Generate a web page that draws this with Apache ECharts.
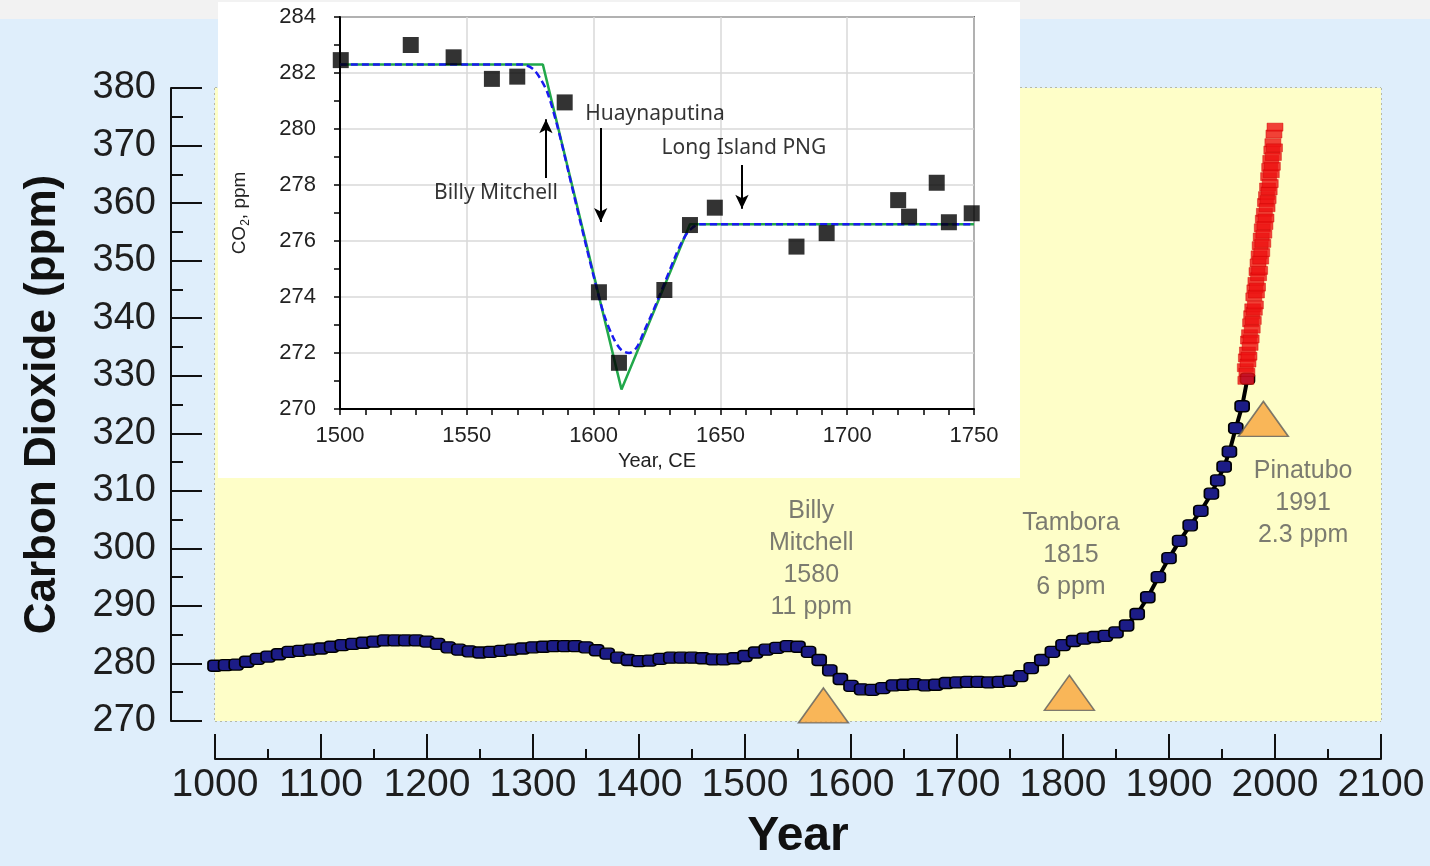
<!DOCTYPE html>
<html>
<head>
<meta charset="utf-8">
<script src="https://cdn.jsdelivr.net/npm/echarts@6/dist/echarts.min.js"></script>
<style>
html,body{margin:0;padding:0;background:#dfeefb;overflow:hidden;}
#chart{position:absolute;left:0;top:0;width:1430px;height:866px;}
</style>
</head>
<body>
<div id="chart"></div>
<script>
// ---------- Main chart data ----------
const mainYears = [1000,1010,1020,1030,1040,1050,1060,1070,1080,1090,
  1100,1110,1120,1130,1140,1150,1160,1170,1180,1190,
  1200,1210,1220,1230,1240,1250,1260,1270,1280,1290,
  1300,1310,1320,1330,1340,1350,1360,1370,1380,1390,
  1400,1410,1420,1430,1440,1450,1460,1470,1480,1490,
  1500,1510,1520,1530,1540,1550,1560,1570,1580,1590,
  1600,1610,1620,1630,1640,1650,1660,1670,1680,1690,
  1700,1710,1720,1730,1740,1750,1760,1770,1780,1790,
  1800,1810,1820,1830,1840,1850,1860,1870,1880,1890,
  1900,1910,1920,1930,1940,1946,1952,1957,1963,1969,1974];
const mainPpm = [279.6,279.7,279.8,280.3,280.8,281.2,281.6,282.0,282.2,282.4,
  282.6,282.9,283.2,283.4,283.6,283.8,284.0,284.0,284.0,284.0,
  283.8,283.4,282.8,282.4,282.1,281.9,282.0,282.2,282.4,282.6,
  282.8,282.9,283.0,283.0,283.0,282.8,282.3,281.7,281.0,280.6,
  280.4,280.5,280.8,281.0,281.0,281.0,280.9,280.7,280.7,280.9,
  281.3,281.9,282.4,282.7,283.0,282.9,282.0,280.6,278.8,277.3,
  276.1,275.5,275.4,275.7,276.2,276.3,276.4,276.2,276.3,276.6,
  276.7,276.8,276.8,276.7,276.8,277.0,277.8,279.2,280.6,282.0,
  283.2,283.9,284.3,284.6,284.8,285.4,286.6,288.6,291.5,295.0,
  298.3,301.3,304.0,306.5,309.5,311.8,314.2,316.8,320.9,324.7,329.5];

// Instrumental record (red)
const redYears = [1972,1972.5,1973,1973.5,1974,1974.5,1975,1975.5,1976,1976.5,
  1977,1977.5,1978,1978.5,1979,1979.5,1980,1980.5,1981,1981.5,
  1982,1982.5,1983,1983.5,1984,1984.5,1985,1985.5,1986,1986.5,
  1987,1987.5,1988,1988.5,1989,1989.5,1990,1990.5,1991,1991.5,
  1992,1992.5,1993,1993.5,1994,1994.5,1995,1995.5,1996,1996.5,
  1997,1997.5,1998,1998.5,1999,1999.5,2000];
const redPpm = [331.4,329.2,333.1,330.6,334.3,332.2,336.2,333.4,337.3,335.1,
  339.2,336.4,340.6,338.1,341.8,339.6,343.7,341.2,345.1,342.3,
  346.4,344.2,348.1,345.4,349.6,347.2,351.0,348.3,352.6,350.1,
  354.1,351.4,355.7,353.0,357.2,354.6,358.4,356.1,360.1,357.4,
  361.3,359.2,362.8,360.6,364.6,362.1,366.2,363.4,367.6,365.1,
  369.2,366.4,370.5,368.1,372.0,369.6,373.2];

// Eruption annotations
const eruptionNames = ['Billy\nMitchell', 'Tambora', 'Pinatubo'];
const eruptionYearLabels = ['1580', '1815', '1991'];
const eruptionDrops = ['11 ppm', '6 ppm', '2.3 ppm'];
const eruptionMarkerYears = [1574, 1806, 1989];
const eruptionMarkerPpm = [272.7, 274.9, 322.5];
const eruptionLabelYears = [1562.5, 1807.5, 2026.5];
const eruptionLabelPpm = [298.2, 298.9, 307.9];

// ---------- Inset data ----------
const insetYears = [1500.3,1527.9,1544.8,1559.9,1569.9,1588.6,1602.1,1610.0,1627.9,1638.0,
  1647.8,1680.0,1691.9,1720.1,1724.4,1735.3,1740.1,1749.1];
const insetPpm = [282.46,283.0,282.56,281.79,281.87,280.95,274.17,271.65,274.25,276.57,
  277.19,275.8,276.28,277.46,276.87,278.08,276.67,276.99];
const greenYears = [1500,1580,1611,1638,1750];
const greenPpm = [282.3,282.3,270.7,276.6,276.6];
const blueYears = [1500,1572,1576,1579,1582,1586,1590,1595,1600,1604,1608,1611,1614,1617,1620,1623,1628,1632,1635,1638,1642,1750];
const bluePpm = [282.3,282.3,282.15,281.8,281.25,280.0,278.5,276.6,274.75,273.4,272.5,272.1,272.0,272.2,272.8,273.4,274.5,275.4,276.0,276.4,276.6,276.6];
const insetNotes = ['Billy Mitchell', 'Huaynaputina', 'Long Island PNG'];
const insetNoteYears = [1561.5, 1624.2, 1659.3];
const insetNotePpm = [277.71, 280.54, 279.32];
const arrowYears = [1581.2, 1602.8, 1658.5];
const arrowFrom = [278.25, 280.04, 278.71];
const arrowTo = [280.35, 276.68, 277.15];

const zip = (a, b) => a.map((v, i) => [v, b[i]]);

const chart = echarts.init(document.getElementById('chart'), null, {renderer: 'canvas', width: 1430, height: 866});
const FONT = 'Liberation Sans, Arial, sans-serif';
const gridDot = {color: '#a8a88c', width: 1.5, type: [2, 3]};
const plain = v => String(v);

const option = {
  backgroundColor: '#dfeefb',
  animation: false,
  graphic: [
    {type: 'rect', left: 0, top: 0, shape: {width: 1430, height: 19}, style: {fill: '#f2f2f2'}, z: 0, silent: true},
    {type: 'rect', left: 218, top: 2, shape: {width: 802, height: 476}, style: {fill: '#ffffff'}, z: 5, silent: true}
  ],
  grid: [
    {left: 215, top: 88, width: 1166, height: 642, show: true, backgroundColor: '#fefec8', borderWidth: 0, z: 1},
    {left: 340, top: 17, width: 634, height: 392, show: true, backgroundColor: '#ffffff', borderColor: '#000', borderWidth: 1.5, z: 6}
  ],
  xAxis: [
    {
      gridIndex: 0, type: 'value', min: 1000, max: 2100, interval: 100, offset: 38,
      axisLine: {show: true, onZero: false, lineStyle: {color: '#111', width: 2}},
      axisTick: {show: true, inside: true, length: 25, lineStyle: {color: '#111', width: 2}},
      minorTick: {show: true, splitNumber: 2, length: 10, lineStyle: {color: '#111', width: 2}},
      axisLabel: {fontSize: 39, color: '#1e1e1e', fontFamily: FONT, margin: 7, formatter: plain},
      splitLine: {show: true, lineStyle: gridDot},
      name: 'Year', nameLocation: 'middle', nameGap: 54,
      nameTextStyle: {fontSize: 48, fontWeight: 'bold', color: '#111', fontFamily: FONT}
    },
    {
      gridIndex: 1, type: 'value', min: 1500, max: 1750, interval: 50, z: 7,
      axisLine: {show: true, onZero: false, lineStyle: {color: '#000', width: 2}},
      axisTick: {show: true, length: 6, lineStyle: {color: '#000', width: 1.5}},
      minorTick: {show: true, splitNumber: 5, length: 6, lineStyle: {color: '#000', width: 1.5}},
      axisLabel: {fontSize: 22, color: '#222', fontFamily: FONT, margin: 16, formatter: plain},
      splitLine: {show: true, lineStyle: {color: '#d9d9d9', width: 1.5}},
      name: 'Year, CE', nameLocation: 'middle', nameGap: 42,
      nameTextStyle: {fontSize: 20, color: '#222', fontFamily: FONT}
    }
  ],
  yAxis: [
    {
      gridIndex: 0, type: 'value', min: 270, max: 380, interval: 10, offset: 44,
      axisLine: {show: true, onZero: false, lineStyle: {color: '#111', width: 2}},
      axisTick: {show: true, inside: true, length: 31, lineStyle: {color: '#111', width: 2}},
      minorTick: {show: true, splitNumber: 2, length: 12, lineStyle: {color: '#111', width: 2}},
      axisLabel: {fontSize: 38, color: '#1e1e1e', fontFamily: FONT, margin: 15, formatter: plain},
      splitLine: {show: true, lineStyle: gridDot},
      name: 'Carbon Dioxide (ppm)', nameLocation: 'middle', nameGap: 106, nameRotate: 90,
      nameTextStyle: {fontSize: 44, fontWeight: 'bold', color: '#111', fontFamily: FONT}
    },
    {
      gridIndex: 1, type: 'value', min: 270, max: 284, interval: 2, z: 7,
      axisLine: {show: true, onZero: false, lineStyle: {color: '#000', width: 2}},
      axisTick: {show: true, length: 6, lineStyle: {color: '#000', width: 1.5}},
      minorTick: {show: true, splitNumber: 2, length: 6, lineStyle: {color: '#000', width: 1.5}},
      axisLabel: {fontSize: 22, color: '#222', fontFamily: FONT, margin: 24, formatter: plain},
      splitLine: {show: true, lineStyle: {color: '#d9d9d9', width: 1.5}},
      name: '{a|CO}{b|2}{a|, ppm}', nameLocation: 'middle', nameGap: 88, nameRotate: 90,
      nameTextStyle: {
        fontFamily: FONT, color: '#222',
        rich: {
          a: {fontSize: 19, fontFamily: FONT, color: '#222', lineHeight: 24, verticalAlign: 'middle'},
          b: {fontSize: 12, fontFamily: FONT, color: '#222', lineHeight: 12, verticalAlign: 'bottom'}
        }
      }
    }
  ],
  series: [
    {
      type: 'line', xAxisIndex: 0, yAxisIndex: 0, z: 2,
      data: zip(mainYears, mainPpm),
      symbol: 'roundRect', symbolSize: [14, 11],
      lineStyle: {color: '#000', width: 4},
      itemStyle: {color: '#1c1c86', borderColor: '#000', borderWidth: 1.5}
    },
    {
      type: 'scatter', xAxisIndex: 0, yAxisIndex: 0, z: 2,
      data: zip(redYears, redPpm),
      symbol: 'rect', symbolSize: [16, 8],
      itemStyle: {color: '#ee1111', borderColor: '#cc0000', borderWidth: 0.5}
    },
    {
      type: 'scatter', xAxisIndex: 0, yAxisIndex: 0, z: 3,
      data: zip(eruptionMarkerYears, eruptionMarkerPpm),
      symbol: 'triangle', symbolSize: [50, 35],
      itemStyle: {color: '#f8a43c', borderColor: '#5e5e5e', borderWidth: 1.5}
    },
    {
      type: 'scatter', xAxisIndex: 0, yAxisIndex: 0, z: 3, silent: true,
      symbolSize: 0,
      data: eruptionNames.map((n, i) => ({
        value: [eruptionLabelYears[i], eruptionLabelPpm[i]],
        name: n + '\n' + eruptionYearLabels[i] + '\n' + eruptionDrops[i]
      })),
      label: {
        show: true, position: [0, 0], align: 'center', verticalAlign: 'middle',
        formatter: p => p.name,
        fontSize: 25, lineHeight: 32, color: '#5a5a5a', fontFamily: FONT
      }
    },
    // Inset
    {
      type: 'line', xAxisIndex: 1, yAxisIndex: 1, z: 10,
      data: zip(greenYears, greenPpm), symbol: 'none',
      lineStyle: {color: '#21a84a', width: 2.5},
      markLine: {
        silent: true, z: 15, symbol: ['none', 'arrow'], symbolSize: [10, 14],
        lineStyle: {color: '#000', width: 2, type: 'solid'},
        label: {show: false},
        data: arrowYears.map((y, i) => [{coord: [y, arrowFrom[i]]}, {coord: [y, arrowTo[i]]}])
      }
    },
    {
      type: 'line', xAxisIndex: 1, yAxisIndex: 1, z: 11,
      data: zip(blueYears, bluePpm), symbol: 'none', smooth: 0.3,
      lineStyle: {color: '#1a1af0', width: 2.5, type: [7, 4]}
    },
    {
      type: 'scatter', xAxisIndex: 1, yAxisIndex: 1, z: 12,
      data: zip(insetYears, insetPpm),
      symbol: 'rect', symbolSize: 16,
      itemStyle: {color: '#000'}
    },
    {
      type: 'scatter', xAxisIndex: 1, yAxisIndex: 1, z: 12, silent: true,
      symbolSize: 0,
      data: insetNotes.map((n, i) => ({value: [insetNoteYears[i], insetNotePpm[i]], name: n})),
      label: {
        show: true, position: [0, 0], align: 'center', verticalAlign: 'middle',
        formatter: p => p.name,
        fontSize: 21, color: '#000', fontFamily: 'Noto Sans, Liberation Sans, sans-serif'
      }
    }
  ]
};
chart.setOption(option);
</script>
</body>
</html>
